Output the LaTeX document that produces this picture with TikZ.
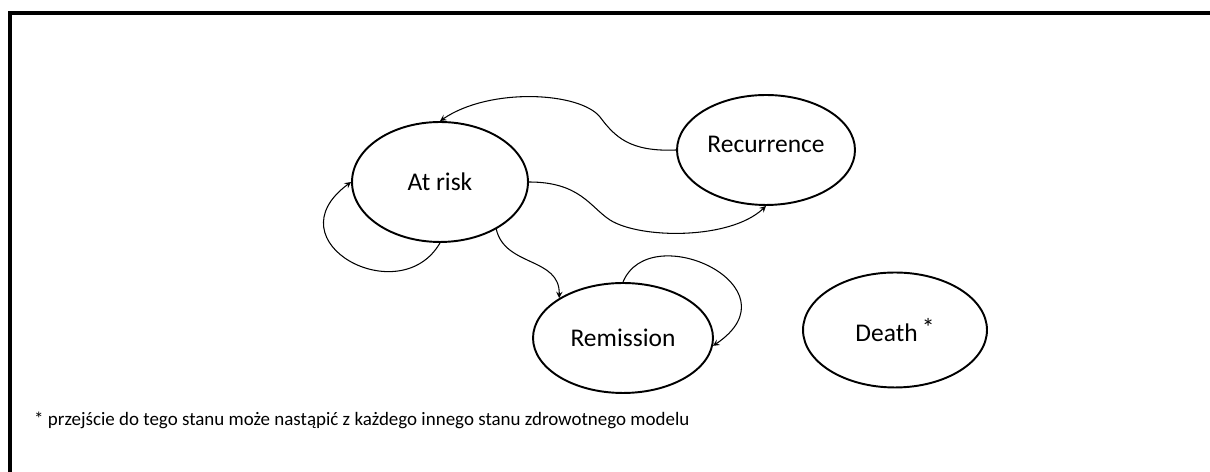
\documentclass[tikz,border=0pt]{standalone}
\usepackage{fontspec}
\setmainfont{Carlito}
\usetikzlibrary{shapes.geometric}

\begin{document}
\begin{tikzpicture}[x=0.02cm,y=0.02cm,>=stealth,
   state/.style={draw,ellipse,line width=1.1pt,inner sep=0pt,font=\fontsize{14.5}{16}\selectfont},
   link/.style={->,line width=0.6pt}]
   \useasboundingbox (0,0) rectangle (1210,472);
   % frame
   \draw[line width=1.8pt] (1210,459) -- (10,459) -- (10,0);

   \node[state,minimum width=3.52cm,minimum height=2.4cm] (atrisk) at (440,290) {At risk};
   \node[state,minimum width=3.56cm,minimum height=2.2cm] (recur) at (766,322) {\raisebox{6pt}{Recurrence}};
   \node[state,minimum width=3.6cm,minimum height=2.2cm] (remis) at (623,134) {Remission};
   \node[state,minimum width=3.68cm,minimum height=2.3cm] (death) at (895,142) {Death\,\raisebox{3pt}{*}};

   \draw[link] (recur.west) .. controls (630,320) and (615,335) .. (600,355)
                            .. controls (580,380) and (490,385) .. (atrisk.north);
   \draw[link] (atrisk.east) .. controls (580,290) and (590,265) .. (610,252)
                             .. controls (640,233) and (730,232) .. (recur.south);
   \draw[link] (atrisk.south) .. controls (400,160) and (270,230) .. (atrisk.west);
   \draw[link] (atrisk.-40) .. controls (505,205) and (560,215) .. (remis.148);
   \draw[link] (remis.north) .. controls (650,255) and (800,185) .. (remis.-5);

   \node[anchor=west,font=\fontsize{10.8}{12}\selectfont] (note) at (28,52)
      {* przejście do tego stanu może nastąpić z każdego innego stanu zdrowotnego modelu};
\end{tikzpicture}
\end{document}
